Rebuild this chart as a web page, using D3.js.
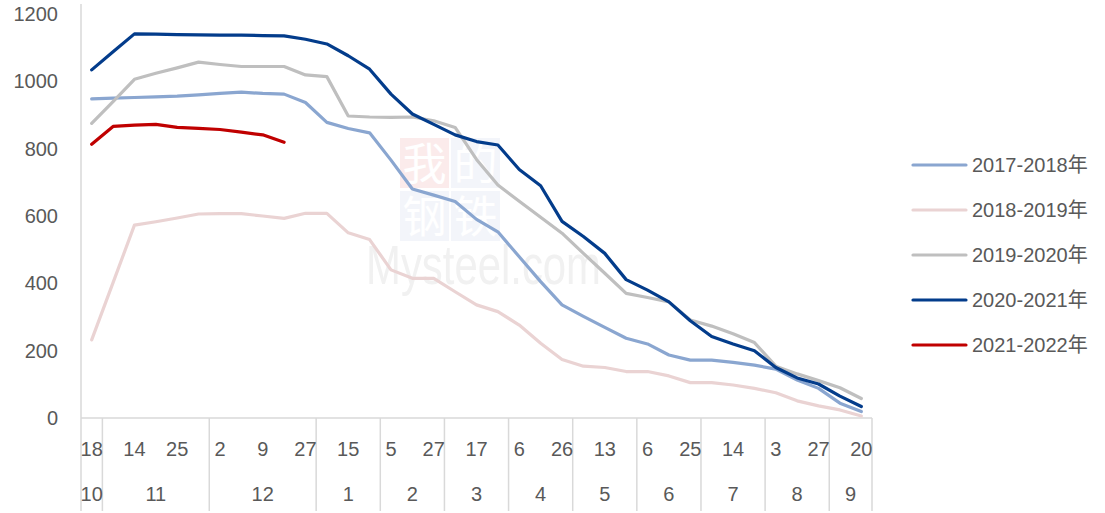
<!DOCTYPE html>
<meta charset="utf-8">
<title>Inventory by season</title>
<style>
  body { margin: 0; background: #fff; }
  text { font-family: "Liberation Sans", "Noto Sans CJK SC", sans-serif; fill: #595959; }
</style>
<div id="viz"></div>
<script src="https://cdnjs.cloudflare.com/ajax/libs/d3/7.8.5/d3.min.js"></script>
<script>

// day / month of each weekly observation
var days = [18, 7, 14, 18, 25, 29, 2, 5, 9, 20, 27, 8, 15, 22, 5, 19, 27, 5, 17, 26,
            6, 16, 26, 6, 13, 27, 6, 15, 25, 5, 14, 23, 3, 13, 27, 6, 20];
var months = [10, 11, 11, 11, 11, 11, 12, 12, 12, 12, 12, 1, 1, 1, 2, 2, 2, 3, 3, 3,
              4, 4, 4, 5, 5, 5, 6, 6, 6, 7, 7, 7, 8, 8, 8, 9, 9];

var seriesNames = ["2017-2018年", "2018-2019年", "2019-2020年", "2020-2021年", "2021-2022年"];
var seriesColors = ["#8aa6d0", "#ead3d3", "#bfbfbf", "#033c8b", "#c00000"];

var s1718 = [948, 950, 952, 954, 956, 960, 964, 968, 964, 962, 937, 878, 860, 847, 766, 680, 662, 643, 590, 553,
             479, 405, 336, 302, 269, 237, 220, 187, 172, 172, 165, 157, 145, 113, 88, 44, 19];
var s1819 = [232, 402, 573, 583, 594, 606, 607, 607, 600, 593, 608, 608, 550, 530, 440, 415, 415, 375, 336, 316,
             276, 222, 174, 154, 150, 138, 138, 125, 105, 105, 98, 88, 75, 51, 36, 24, 6];
var s1920 = [875, 940, 1006, 1024, 1040, 1057, 1050, 1044, 1044, 1044, 1019, 1014, 897, 894, 893, 894, 883, 863, 768, 692,
             644, 596, 549, 489, 430, 370, 358, 345, 291, 273, 250, 224, 154, 131, 111, 90, 58];
var s2021 = [1034, 1088, 1141, 1140, 1139, 1138, 1137, 1137, 1136, 1135, 1125, 1111, 1076, 1036, 962, 903, 872, 841, 821, 811,
             738, 690, 584, 539, 489, 411, 380, 345, 289, 242, 220, 200, 150, 119, 101, 65, 34];
var s2122 = [813, 866, 870, 872, 863, 860, 857, 849, 841, 819];

var yTicks = [0, 200, 400, 600, 800, 1000, 1200];

var allSeries = [s1718, s1819, s1920, s2021, s2122];

var width = 1105;
var height = 513;
var plotLeft = 81, plotRight = 872, plotTop = 14, plotBottom = 418;

var svg = d3.select("#viz")
  .append("svg")
  .attr("width", width)
  .attr("height", height);

var x = d3.scaleBand()
  .domain(d3.range(days.length))
  .range([plotLeft, plotRight]);

var y = d3.scaleLinear()
  .domain([0, 1200])
  .range([plotBottom, plotTop]);

// watermark
var wm = svg.append("g").attr("opacity", 0.4);
[["我", 400, 138, "#f6cfcf"], ["的", 451, 138, "#e3e8f3"],
 ["钢", 400, 191, "#e3e8f3"], ["铁", 451, 191, "#e3e8f3"]].forEach(function(d) {
  wm.append("rect").attr("x", d[1]).attr("y", d[2]).attr("width", 49).attr("height", 50).attr("fill", d[3]);
  wm.append("text").attr("x", d[1] + 24.5).attr("y", d[2] + 42).attr("text-anchor", "middle")
    .style("font-size", "44px").style("font-family", "'Noto Sans CJK SC'").style("fill", "#fff").text(d[0]);
});
svg.append("text").attr("x", 366).attr("y", 284)
  .attr("textLength", 235).attr("lengthAdjust", "spacingAndGlyphs")
  .style("font-size", "56px").style("fill", "#f1f1f1").text("Mysteel.com");

// axis lines
svg.append("line")
  .attr("x1", plotLeft).attr("x2", plotLeft).attr("y1", 4).attr("y2", 511)
  .attr("stroke", "#d9d9d9").attr("stroke-width", 1.5);
svg.append("line")
  .attr("x1", plotLeft).attr("x2", plotRight).attr("y1", plotBottom).attr("y2", plotBottom)
  .attr("stroke", "#d9d9d9").attr("stroke-width", 1.5);

// month separators
var bounds = [];
months.forEach(function(m, i) {
  if (i > 0 && m != months[i - 1]) bounds.push(i);
});
bounds.push(months.length);
function edge(i) { return i == months.length ? plotRight : x(i); }

svg.selectAll(".sep")
  .data(bounds)
  .enter().append("line")
  .attr("x1", edge).attr("x2", edge)
  .attr("y1", plotBottom).attr("y2", 511)
  .attr("stroke", "#d9d9d9").attr("stroke-width", 1.5);

// day labels (every other category shown)
svg.selectAll(".day")
  .data(days.map(function(d, i) { return {d: d, i: i}; }).filter(function(o) { return o.i % 2 == 0; }))
  .enter().append("text")
  .attr("x", function(o) { return x(o.i) + x.bandwidth() / 2; })
  .attr("y", 456)
  .attr("text-anchor", "middle")
  .style("font-size", "20px")
  .text(function(o) { return o.d; });

// month labels, centered on each month group
var starts = [0].concat(bounds.slice(0, -1));
svg.selectAll(".month")
  .data(starts.map(function(s, k) { return {s: s, e: bounds[k]}; }))
  .enter().append("text")
  .attr("x", function(o) { return (x(o.s) + edge(o.e)) / 2; })
  .attr("y", 501)
  .attr("text-anchor", "middle")
  .style("font-size", "20px")
  .text(function(o) { return months[o.s]; });

// y labels
svg.selectAll(".ytick")
  .data(yTicks)
  .enter().append("text")
  .attr("x", 58)
  .attr("y", function(d) { return y(d) + 7; })
  .attr("text-anchor", "end")
  .style("font-size", "20px")
  .text(function(d) { return d; });

// lines
var line = d3.line()
  .x(function(d, i) { return x(i) + x.bandwidth() / 2; })
  .y(function(d) { return y(d); });

allSeries.forEach(function(s, k) {
  svg.append("path")
    .datum(s)
    .attr("d", line)
    .attr("fill", "none")
    .attr("stroke", seriesColors[k])
    .attr("stroke-width", 3.2)
    .attr("stroke-linejoin", "round")
    .attr("stroke-linecap", "round");
});

// legend
var lg = svg.selectAll(".lg")
  .data(seriesNames)
  .enter().append("g")
  .attr("transform", function(d, k) { return "translate(913," + (165 + k * 45) + ")"; });
lg.append("line")
  .attr("x1", 0).attr("x2", 53)
  .attr("stroke", function(d, k) { return seriesColors[k]; })
  .attr("stroke-width", 3.2)
  .attr("stroke-linecap", "round");
lg.append("text")
  .attr("x", 59).attr("y", 7)
  .style("font-size", "20px")
  .text(function(d) { return d; });

</script>
